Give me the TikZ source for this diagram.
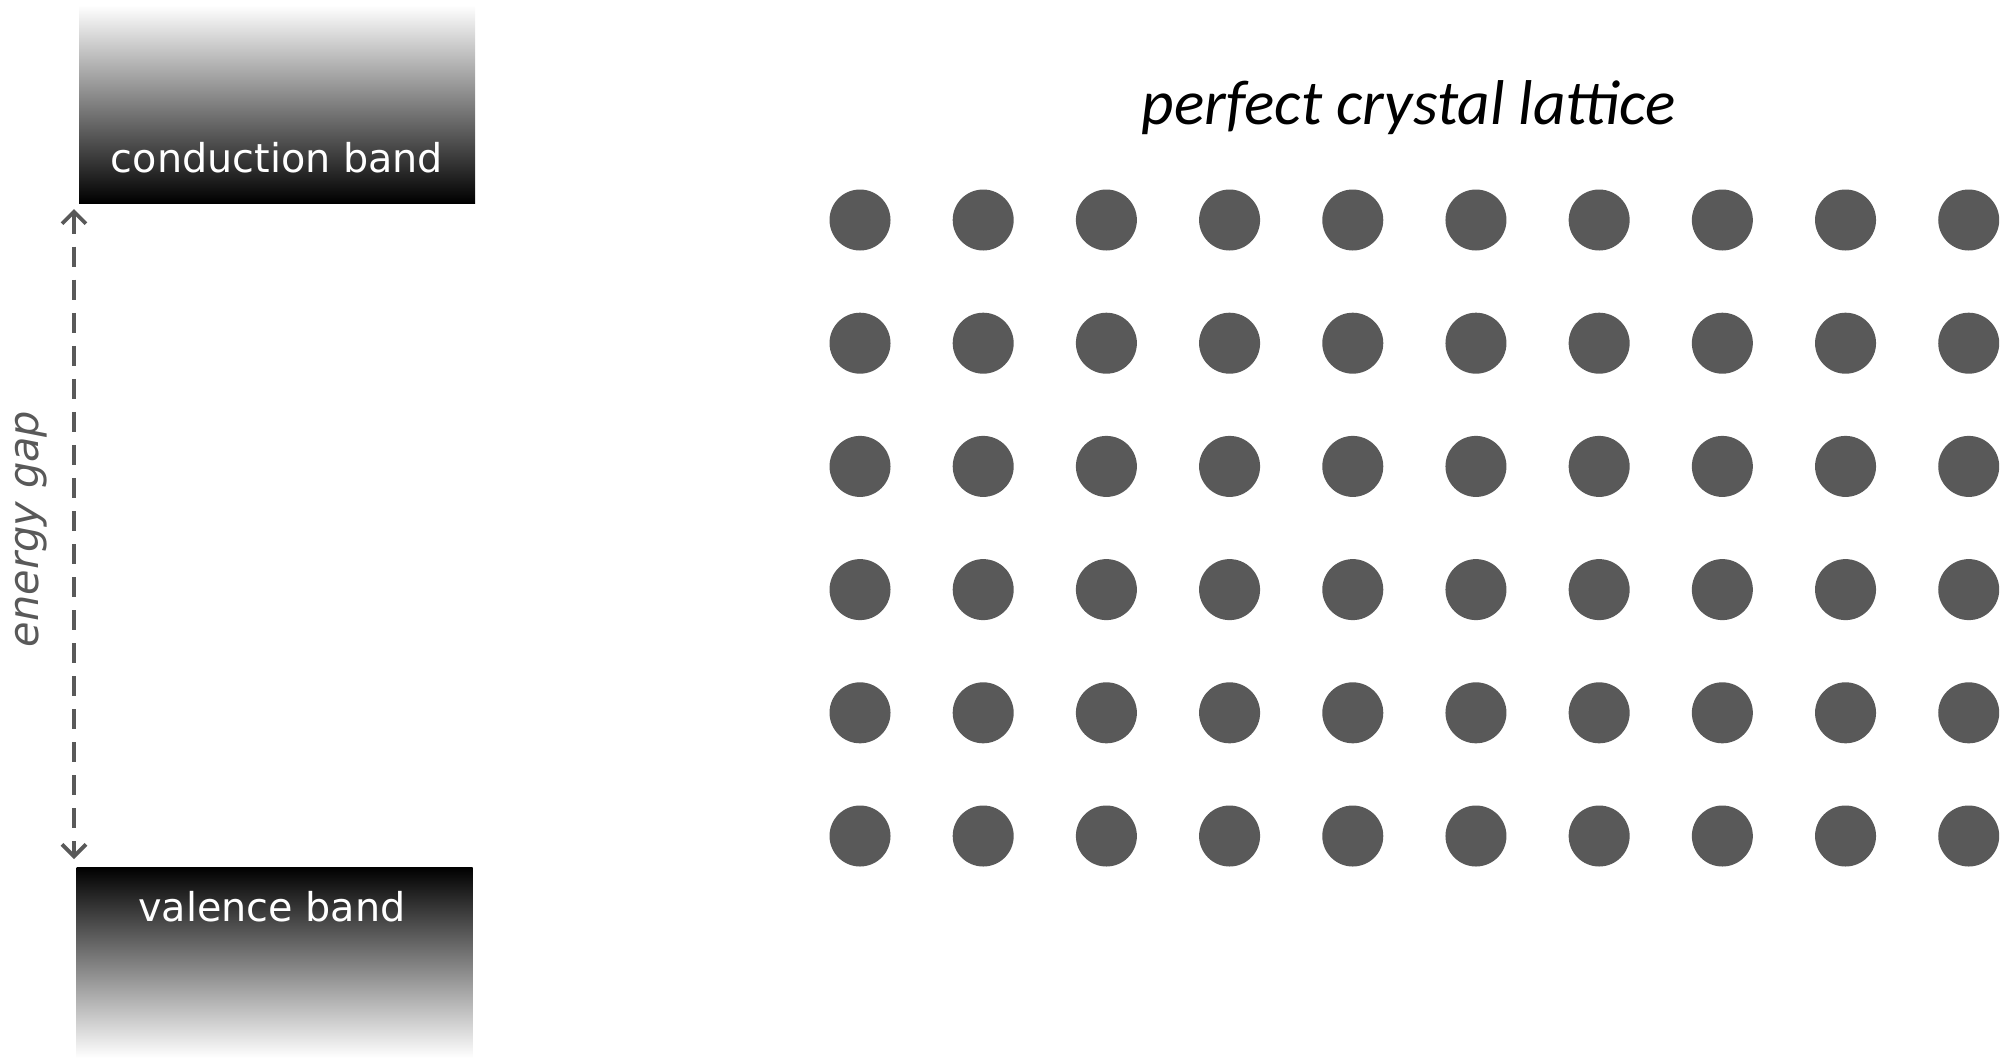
\documentclass[tikz,border=0pt]{standalone}
\usepackage{fontspec}
\setmainfont{DejaVu Sans}
\newfontfamily\carlito{Carlito}
\usetikzlibrary{arrows.meta,positioning,calc}

\begin{document}
\begin{tikzpicture}[
  band/.style={minimum width=3.96cm, inner sep=0pt},
  bandlab/.style={text=white, font=\fontsize{11.3}{13}\selectfont, anchor=base},
  gaparr/.style={{Straight Barb[length=1.2mm,width=2.4mm]}-{Straight Barb[length=1.2mm,width=2.4mm]},
                 line width=1.1pt, draw=black!65, dash pattern=on 5.7pt off 3.7pt},
  gaplab/.style={text=black!65, font=\fontsize{11.8}{14}\selectfont\itshape, rotate=90, anchor=base},
  atom/.style={circle, fill=black!65, minimum size=0.61cm, inner sep=0pt},
  ttl/.style={font=\carlito\itshape\fontsize{18}{22}\selectfont, anchor=base}
]
\useasboundingbox (0,0) rectangle (20.04,10.58);

% ================= Bands =================
\node[band, minimum height=1.98cm, top color=white, bottom color=black] (cond) at (2.77,9.54) {};
\node[bandlab] (condlab) at (2.77,8.86) {conduction band};

\node[band, minimum height=1.91cm, top color=black, bottom color=white] (val) at (2.745,0.955) {};
\node[bandlab] (vallab) at (2.72,1.37) {valence band};

% ================= Energy gap =================
\coordinate (gaptop) at (0.74,8.49);
\coordinate (gapbot) at (0.74,1.99);
\draw[gaparr] (gaptop) -- (gapbot);
\node[gaplab] (gapnote) at (0.39,5.29) {energy gap};

% ================= Lattice =================
\node[ttl] (title) at (14.09,9.34) {perfect crystal lattice};
\foreach \i in {0,...,9}
  \foreach \j in {0,...,5}
    \node[atom] (a-\i-\j) at ({8.60+1.2319*\i},{8.38-1.232*\j}) {};

\end{tikzpicture}
\end{document}
